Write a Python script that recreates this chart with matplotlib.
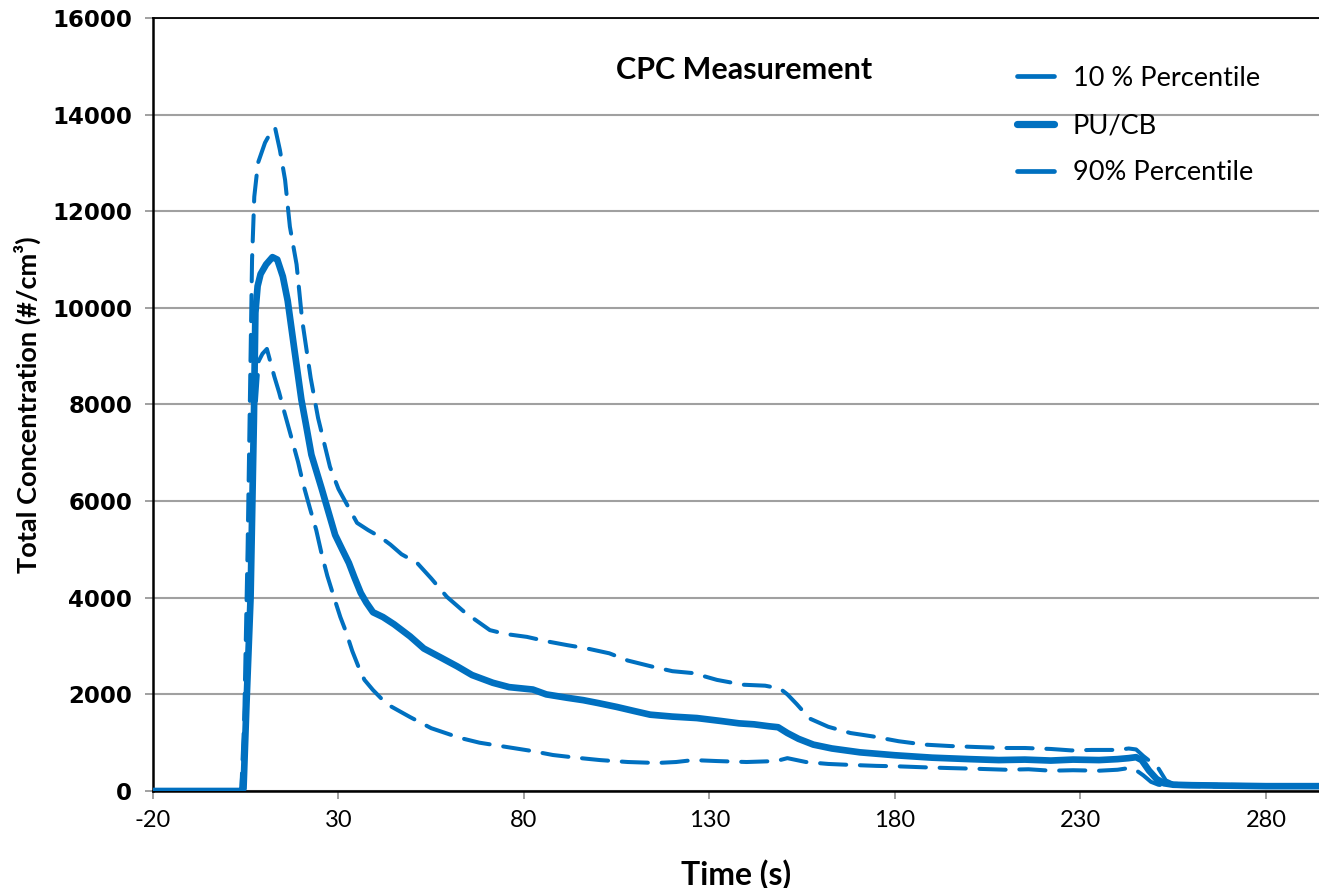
import matplotlib
matplotlib.use("Agg")
import matplotlib.pyplot as plt
from matplotlib.lines import Line2D

# ---- data ----
t_mid = [-20, 3.5, 4.4, 5.2, 6.3, 7.2, 7.6, 8.2, 9.0, 10.5, 12.2, 13.5, 15.0, 16.3,
         18.0, 20.0, 21.2, 22.7, 25.5, 27.2, 29.1, 31.0, 32.8, 34.3, 36.0, 37.5, 39.3,
         42.0, 45.0, 49.3, 53.0, 57.4, 62.0, 66.0, 71.6, 76.0, 82.4, 86.0, 91.6, 96.0,
         100.0, 105.0, 110.0, 114.0, 120.0, 126.6, 133.0, 138.0, 142.0, 146.0, 148.5,
         151.0, 154.0, 158.0, 163.0, 170.6, 180.0, 190.0, 200.0, 208.0, 215.0, 222.0,
         228.0, 235.0, 240.0, 243.0, 245.0, 246.5, 248.5, 250.5, 252.5, 255.0, 260.0,
         270.0, 280.0, 295.0]
v_mid = [0, 0, 50, 1800, 4000, 7700, 9900, 10450, 10700, 10900, 11050, 11000, 10650,
         10150, 9200, 8100, 7600, 6960, 6250, 5800, 5300, 5000, 4720, 4420, 4100, 3900,
         3700, 3600, 3450, 3200, 2950, 2770, 2580, 2400, 2240, 2150, 2100, 2000, 1930,
         1880, 1820, 1740, 1650, 1580, 1540, 1510, 1450, 1400, 1380, 1340, 1320, 1200,
         1080, 960, 880, 800, 740, 690, 660, 640, 650, 630, 650, 640, 660, 680, 700, 640,
         420, 250, 160, 130, 120, 110, 100, 100]

t_hi = [-20, 3.8, 4.6, 5.5, 6.2, 6.7, 7.3, 8.3, 10.2, 11.5, 12.9, 14.2, 15.6, 16.9,
        18.7, 20.2, 22.5, 24.5, 27.7, 30.0, 32.5, 35.0, 38.0, 41.2, 44.0, 47.0, 51.2,
        55.0, 59.2, 64.0, 70.8, 75.0, 80.8, 86.0, 91.6, 97.0, 103.0, 108.0, 114.8, 120.0,
        125.6, 132.0, 139.0, 145.0, 149.0, 151.0, 153.5, 157.0, 162.0, 168.0, 174.0,
        181.0, 188.0, 195.0, 202.0, 210.0, 215.0, 222.0, 227.6, 233.0, 240.0, 243.0,
        245.0, 247.0, 249.0, 251.0, 253.0, 255.0, 265.0, 280.0, 295.0]
v_hi = [0, 0, 1500, 5000, 8500, 11000, 12300, 13000, 13420, 13600, 13730, 13270, 12650,
        11680, 10900, 9750, 8550, 7720, 6710, 6250, 5900, 5550, 5400, 5260, 5100, 4900,
        4720, 4400, 4020, 3700, 3330, 3250, 3190, 3100, 3020, 2950, 2850, 2700, 2570,
        2480, 2440, 2300, 2200, 2180, 2120, 2000, 1800, 1500, 1330, 1200, 1130, 1030,
        960, 930, 910, 890, 890, 870, 840, 850, 850, 880, 860, 720, 600, 470, 220, 150,
        130, 120, 120]

t_lo = [-20, 3.8, 4.5, 5.5, 6.5, 7.5, 8.5, 9.5, 10.7, 12.7, 14.0, 15.4, 17.0, 19.1,
        20.5, 22.3, 24.0, 25.5, 27.0, 29.1, 30.5, 32.0, 33.7, 35.5, 37.0, 39.3, 43.0,
        49.3, 55.0, 62.7, 68.0, 75.4, 82.0, 87.8, 94.0, 100.5, 108.0, 115.8, 121.0,
        125.6, 132.0, 140.0, 148.0, 151.0, 156.0, 162.0, 168.0, 175.0, 181.0, 188.0,
        195.0, 202.0, 210.0, 216.0, 222.0, 228.0, 235.0, 240.0, 243.0, 245.0, 247.0,
        249.0, 251.0, 253.0, 258.0, 270.0, 295.0]
v_lo = [0, 0, 1000, 3500, 6000, 7800, 8900, 9050, 9150, 8580, 8250, 7845, 7400, 6812,
        6350, 5852, 5400, 4893, 4450, 3934, 3600, 3300, 2900, 2550, 2300, 2090, 1800,
        1530, 1300, 1100, 1000, 910, 830, 745, 690, 640, 600, 580, 600, 640, 620, 600,
        620, 680, 600, 560, 540, 520, 510, 490, 474, 460, 440, 450, 420, 430, 420, 440,
        474, 430, 320, 190, 130, 110, 100, 90, 90]

x_ticks = [-20, 30, 80, 130, 180, 230, 280]
y_ticks = list(range(0, 16001, 2000))

blue = "#0070C0"

plt.rcParams["axes.unicode_minus"] = False
fig = plt.figure(figsize=(13.19, 8.88), dpi=100)
ax = fig.add_axes([153 / 1319, 1 - 791 / 888, 1 - 153 / 1319, (791 - 18) / 888])

dash = (6.5, 3.4)
ax.plot(t_hi, v_hi, color=blue, lw=2.9, dashes=dash, dash_capstyle="round",
        solid_joinstyle="round", zorder=3)
ax.plot(t_lo, v_lo, color=blue, lw=2.9, dashes=dash, dash_capstyle="round",
        solid_joinstyle="round", zorder=3)
ax.plot(t_mid, v_mid, color=blue, lw=4.8, solid_capstyle="round",
        solid_joinstyle="round", zorder=4)

ax.set_xlim(-20, 294.3)
ax.set_ylim(0, 16000)
ax.set_xticks(x_ticks)
ax.set_yticks(y_ticks)
ax.grid(axis="y", color="#A0A0A0", lw=1.5)
ax.set_axisbelow(True)

ax.spines["right"].set_visible(False)
ax.spines["left"].set_linewidth(1.8)
ax.spines["bottom"].set_linewidth(1.8)
ax.spines["top"].set_linewidth(1.3)

ax.tick_params(axis="x", direction="out", length=6, width=1.2, color="#909090",
               pad=8, labelsize=17)
ax.tick_params(axis="y", direction="out", length=6, width=1.2, color="#909090",
               pad=9)
for lab in ax.get_xticklabels():
    lab.set_fontfamily("Lato")
for lab in ax.get_yticklabels():
    lab.set_fontfamily("DejaVu Sans")
    lab.set_fontweight("bold")
    lab.set_fontsize(16.5)

ax.set_xlabel("Time (s)", fontfamily="Lato", fontweight="bold", fontsize=23, labelpad=20)
ax.set_ylabel("Total Concentration (#/cm³)", fontfamily="Lato", fontweight="bold",
              fontsize=19.5, labelpad=8)

ax.text(0.507, 0.933, "CPC Measurement", transform=ax.transAxes, ha="center",
        va="center", fontfamily="Lato", fontweight="bold", fontsize=22)

handles = [Line2D([], [], color=blue, lw=3.4, solid_capstyle="round"),
           Line2D([], [], color=blue, lw=5.2, solid_capstyle="round"),
           Line2D([], [], color=blue, lw=3.4, solid_capstyle="round")]
labels = ["10 % Percentile", "PU/CB", "90% Percentile"]
ax.legend(handles, labels, loc="upper left", bbox_to_anchor=(0.732, 0.952),
          frameon=False, prop={"family": "Lato", "size": 19.5}, handlelength=1.35,
          handletextpad=0.7, labelspacing=0.82, borderaxespad=0)

fig.savefig("out.png", dpi=100)
